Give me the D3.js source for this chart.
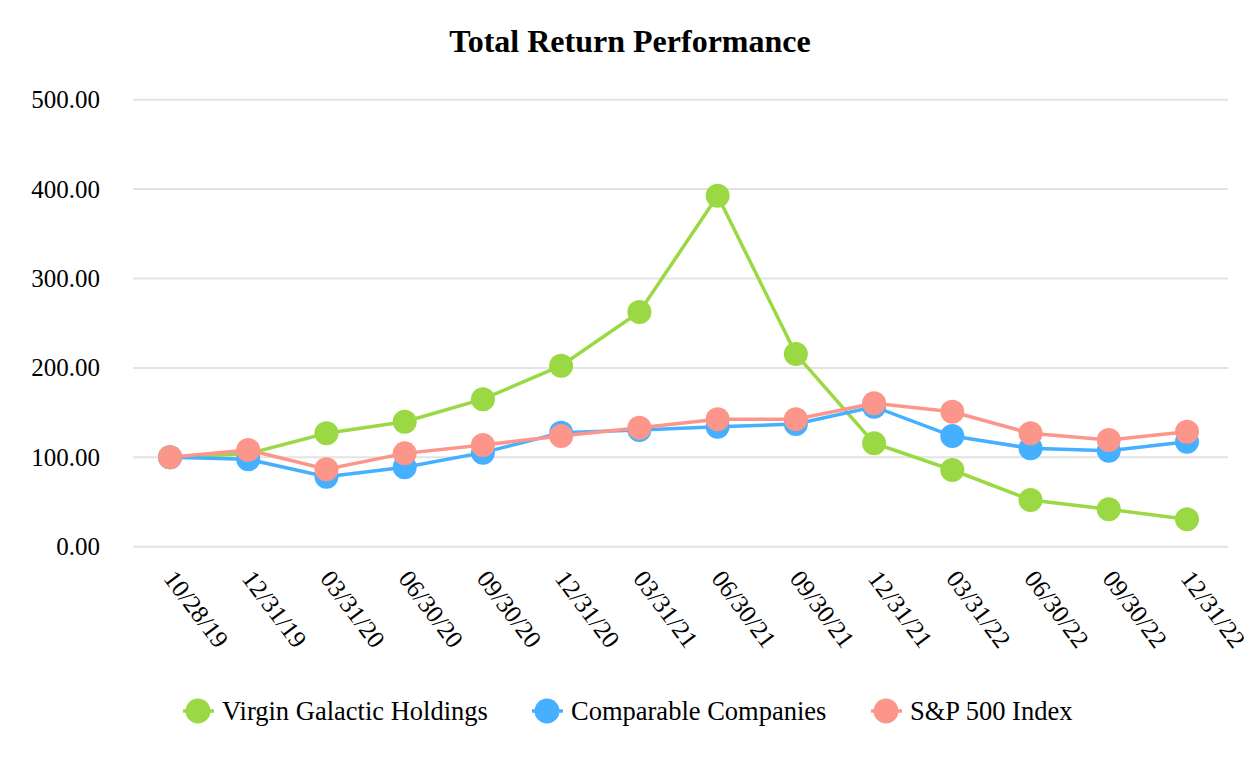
<!DOCTYPE html>
<html>
<head>
<meta charset="utf-8">
<script src="https://cdn.jsdelivr.net/npm/d3@7"></script>
<style>
  html, body { margin: 0; padding: 0; background: #fff; }
  svg text { font-family: "Liberation Serif", "Times New Roman", serif; fill: #000; }
</style>
</head>
<body>
<svg id="chart" width="1258" height="766"></svg>
<script>
const dates = ["10/28/19","12/31/19","03/31/20","06/30/20","09/30/20","12/31/20","03/31/21","06/30/21","09/30/21","12/31/21","03/31/22","06/30/22","09/30/22","12/31/22"];
const virgin = [100, 104, 126.8, 139.8, 165, 202.5, 262.5, 392.5, 215.5, 115.7, 85.8, 52.2, 41.8, 30.6];
const comparable = [100, 97.7, 78.3, 88.8, 105.2, 127.5, 130.5, 134.2, 137.2, 156.6, 123.8, 110, 107.4, 117.4];
const sp500 = [100, 108.2, 86.6, 104.4, 113.8, 123.8, 133.1, 142.5, 142.5, 160.4, 151, 126.8, 119.4, 128.6];
const yTicks = [0, 100, 200, 300, 400, 500];
const seriesNames = ["Virgin Galactic Holdings", "Comparable Companies", "S&P 500 Index"];
const colors = ["#9bd944", "#44b0ff", "#fc968b"];

const svg = d3.select("#chart");
const x = d3.scalePoint().domain(dates).range([170, 1187]);
const y = d3.scaleLinear().domain([0, 500]).range([546.7, 99.7]);

svg.append("text").attr("x", 630).attr("y", 52).attr("text-anchor", "middle")
  .style("font-size", "32px").style("font-weight", "bold").text("Total Return Performance");

// gridlines
svg.append("g").selectAll("line").data(yTicks).join("line")
  .attr("x1", 133).attr("x2", 1228)
  .attr("y1", d => y(d)).attr("y2", d => y(d))
  .attr("stroke", "#e3e3e3").attr("stroke-width", 2);

// y axis labels
const yAxis = d3.axisLeft(y).tickValues(yTicks).tickFormat(d3.format(".2f")).tickSize(0).tickPadding(0);
const ya = svg.append("g").attr("transform", "translate(100,0)").call(yAxis);
ya.select(".domain").remove();
ya.selectAll("text").style("font-size", "25px").style("font-family", "Liberation Serif, serif").attr("fill", "#000");

// x axis labels
const xg = svg.append("g");
xg.selectAll("text").data(dates).join("text")
  .attr("transform", d => `translate(${x(d) + 7},568) rotate(53)`)
  .attr("dy", "0.71em")
  .style("font-size", "25px")
  .text(d => d);

const series = [virgin, comparable, sp500];
const line = d3.line().x((d, i) => x(dates[i])).y(d => y(d));

series.forEach((s, k) => {
  const g = svg.append("g");
  g.append("path").datum(s).attr("d", line).attr("fill", "none")
    .attr("stroke", colors[k]).attr("stroke-width", 3.5);
  g.selectAll("circle").data(s).join("circle")
    .attr("cx", (d, i) => x(dates[i])).attr("cy", d => y(d)).attr("r", 12)
    .attr("fill", colors[k]);
});

// legend
const legendX = [198, 547, 886];
const lg = svg.append("g");
seriesNames.forEach((n, k) => {
  const cx = legendX[k];
  lg.append("line").attr("x1", cx - 15).attr("x2", cx + 16).attr("y1", 711).attr("y2", 711)
    .attr("stroke", colors[k]).attr("stroke-width", 3.5);
  lg.append("circle").attr("cx", cx).attr("cy", 711).attr("r", 12.5).attr("fill", colors[k]);
  lg.append("text").attr("x", cx + 24).attr("y", 720).style("font-size", "26.5px").text(n);
});
</script>
</body>
</html>
